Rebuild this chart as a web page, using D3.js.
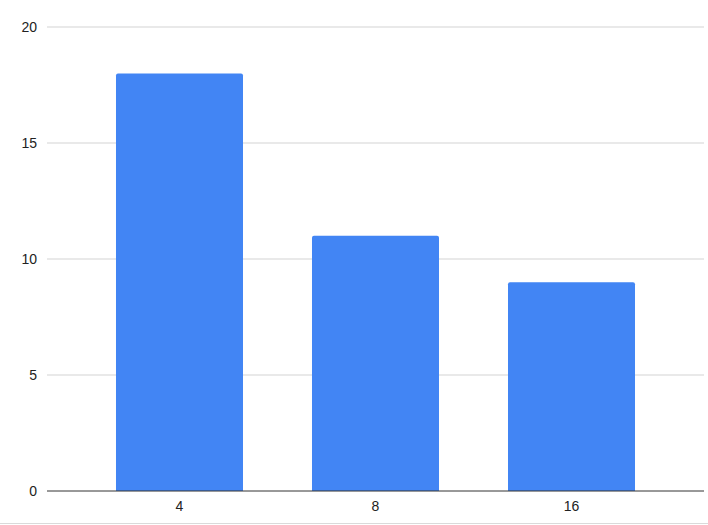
<!DOCTYPE html>
<html><head><meta charset="utf-8">
<script src="https://cdn.jsdelivr.net/npm/d3@7"></script>
<style>body{margin:0;background:#fff;}svg{display:block;font-family:"Liberation Sans",Arial,sans-serif;}</style>
</head><body>
<svg id="c" width="708" height="525"></svg>
<script>
const categories = ["4", "8", "16"];
const values = [18, 11, 9];
const yTicks = [0, 5, 10, 15, 20];

const svg = d3.select("#c");
const m = {left: 47, right: 4, top: 27, bottom: 34};
const W = 708, H = 525;
const x = d3.scaleBand().domain(categories).range([m.left, W - m.right]).paddingInner(0.352).paddingOuter(0.352);
const y = d3.scaleLinear().domain([0, 20]).range([H - m.bottom, m.top]);

// gridlines
svg.append("g").selectAll("line").data(yTicks.filter(d => d !== 0)).join("line")
  .attr("x1", m.left).attr("x2", W - m.right)
  .attr("y1", d => y(d)).attr("y2", d => y(d))
  .attr("stroke", "#d3d3d3").attr("stroke-width", 1);

// y labels
svg.append("g").selectAll("text").data(yTicks).join("text")
  .attr("x", 37).attr("y", d => y(d)).attr("dy", "0.35em")
  .attr("text-anchor", "end").attr("font-size", 14).attr("fill", "#222")
  .text(d => d);

// bars
svg.append("g").selectAll("path").data(values).join("path")
  .attr("fill", "#4285f4")
  .attr("d", (d, i) => {
    const x0 = x(categories[i]), w = x.bandwidth(), yt = y(d), yb = y(0), r = 2;
    return `M${x0},${yb}V${yt + r}Q${x0},${yt} ${x0 + r},${yt}H${x0 + w - r}Q${x0 + w},${yt} ${x0 + w},${yt + r}V${yb}Z`;
  });

// baseline
svg.append("line").attr("x1", m.left).attr("x2", W - m.right)
  .attr("y1", y(0)).attr("y2", y(0)).attr("stroke", "#333").attr("stroke-width", 1);

// x labels
svg.append("g").selectAll("text").data(categories).join("text")
  .attr("x", d => x(d) + x.bandwidth() / 2).attr("y", y(0) + 20)
  .attr("text-anchor", "middle").attr("font-size", 14).attr("fill", "#222")
  .text(d => d);

// bottom border
svg.append("line").attr("x1", 0).attr("x2", W).attr("y1", 523.5).attr("y2", 523.5)
  .attr("stroke", "#dadada").attr("stroke-width", 1);
</script>
</body></html>
